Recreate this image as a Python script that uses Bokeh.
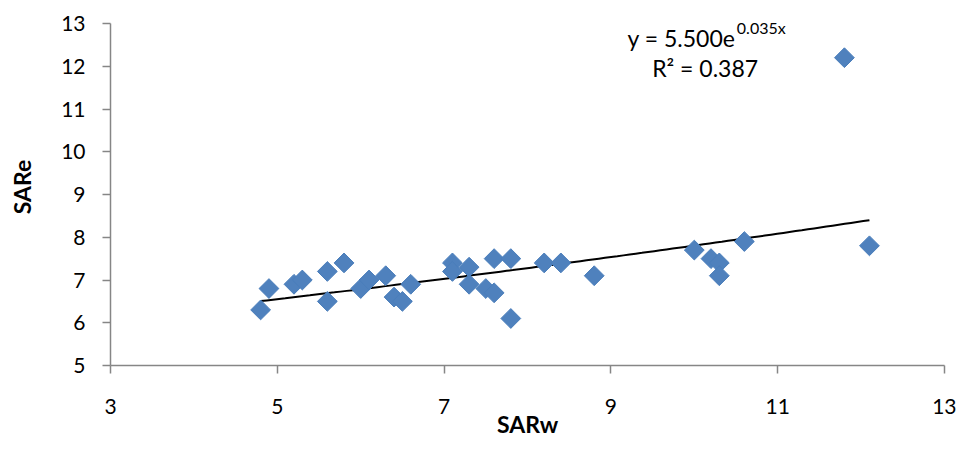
import numpy as np
from bokeh.plotting import figure
from bokeh.models import FixedTicker, Label, Range1d
from bokeh.embed import file_html
from bokeh.resources import INLINE

# ---- data ----
sarw = [4.8, 4.9, 5.2, 5.3, 5.6, 5.6, 5.8, 6.0, 6.1, 6.3, 6.4, 6.5, 6.6,
        7.1, 7.1, 7.3, 7.3, 7.5, 7.6, 7.6, 7.8, 7.8, 8.2, 8.4, 8.8,
        10.0, 10.2, 10.3, 10.3, 10.6, 11.8, 12.1]
sare = [6.3, 6.8, 6.9, 7.0, 7.2, 6.5, 7.4, 6.8, 7.0, 7.1, 6.6, 6.5, 6.9,
        7.4, 7.2, 7.3, 6.9, 6.8, 6.7, 7.5, 7.5, 6.1, 7.4, 7.4, 7.1,
        7.7, 7.5, 7.4, 7.1, 7.9, 12.2, 7.8]
fit_a = 5.500
fit_b = 0.035
r_squared = 0.387
x_ticks = [3, 5, 7, 9, 11, 13]
y_ticks = [5, 6, 7, 8, 9, 10, 11, 12, 13]

FONT = "Lato"
AXIS = "#868686"
BLUE = "#4F81BD"

# y range extends a little above the last tick so that the equation
# text (which sits above the axis top) is not clipped; axis is bounded.
p = figure(width=956, height=440, output_backend="svg", toolbar_location=None,
           x_range=Range1d(3, 13), y_range=Range1d(5, 13.351),
           min_border_left=110, min_border_right=12, min_border_top=8,
           min_border_bottom=75)
p.outline_line_color = None
p.xgrid.visible = False
p.ygrid.visible = False
p.background_fill_color = "white"
p.border_fill_color = "white"

for ax in (p.xaxis[0], p.yaxis[0]):
    ax.axis_line_color = AXIS
    ax.axis_line_width = 1.5
    ax.major_tick_line_color = AXIS
    ax.major_tick_line_width = 1.5
    ax.major_tick_in = 0
    ax.major_tick_out = 8
    ax.minor_tick_line_color = None
    ax.major_label_text_font = FONT
    ax.major_label_text_font_size = "21px"
    ax.major_label_text_color = "black"
    ax.axis_label_text_font = FONT
    ax.axis_label_text_font_size = "23px"
    ax.axis_label_text_font_style = "bold"
    ax.axis_label_text_color = "black"

p.yaxis.bounds = (5, 13)
p.xaxis.ticker = FixedTicker(ticks=x_ticks)
p.yaxis.ticker = FixedTicker(ticks=y_ticks)
p.xaxis.axis_label = "SARw"
p.yaxis.axis_label = "SARe"
p.xaxis.major_label_standoff = 25
p.yaxis.major_label_standoff = 17
p.xaxis.axis_label_standoff = -7
p.yaxis.axis_label_standoff = 22

# trend line from the fitted equation over the data range
xs = np.linspace(min(sarw), max(sarw), 100)
ys = fit_a * np.exp(fit_b * xs)
p.line(xs, ys, line_color="black", line_width=2)

p.scatter(sarw, sare, marker="square", size=14, angle=np.pi / 4,
          fill_color=BLUE, line_color="#4A7EBB", line_width=1)

eq = Label(x=9.20, y=12.67, text=f"y = {fit_a:.3f}e", text_font=FONT,
           text_font_size="23px", text_color="black",
           text_baseline="alphabetic", text_align="left")
sup = Label(x=10.51, y=12.91, text=f"{fit_b:.3f}x", text_font=FONT,
            text_font_size="16px", text_color="black",
            text_baseline="alphabetic", text_align="left")
r2 = Label(x=10.13, y=11.95, text=f"R\u00b2 = {r_squared:.3f}", text_font=FONT,
           text_font_size="23px", text_color="black",
           text_baseline="alphabetic", text_align="center")
for lab in (eq, sup, r2):
    p.add_layout(lab)

open("out.html", "w").write(file_html(p, INLINE))
